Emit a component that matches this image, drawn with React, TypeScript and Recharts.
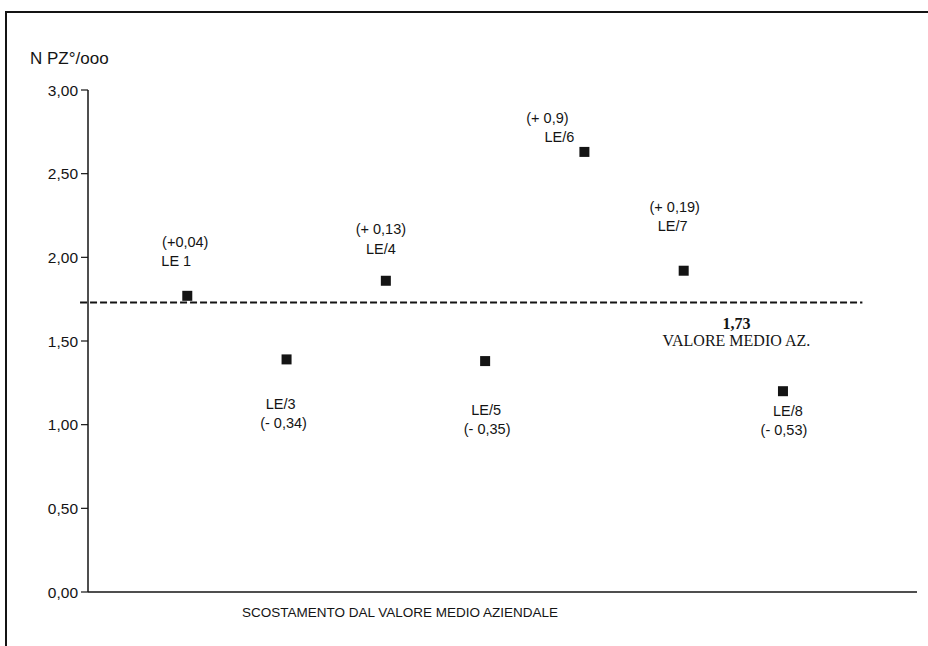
import React from "react";
import { ScatterChart, Scatter, XAxis, YAxis, ReferenceLine } from "recharts";

const NAMES = ["LE 1", "LE/3", "LE/4", "LE/5", "LE/6", "LE/7", "LE/8"];
const VALUES = [1.77, 1.39, 1.86, 1.38, 2.63, 1.92, 1.2];
const DELTAS = ["(+0,04)", "(- 0,34)", "(+ 0,13)", "(- 0,35)", "(+ 0,9)", "(+ 0,19)", "(- 0,53)"];
const MEAN = 1.73;
const MEAN_TEXT = ["1,73", "VALORE MEDIO AZ."];
const Y_TICKS = [0, 0.5, 1, 1.5, 2, 2.5, 3];
const Y_TITLE = "N PZ°/ooo";
const X_TITLE = "SCOSTAMENTO DAL VALORE MEDIO AZIENDALE";

// where the two text lines sit around each marker: [dx, dy] per line
const LABEL_OFFSETS = [
  [[-2, -54], [-11, -35]],
  [[-6, 45], [-3, 64]],
  [[-5, -52], [-5, -32]],
  [[1, 49], [2, 68]],
  [[-37, -34], [-25, -15]],
  [[-9, -64], [-11, -45]],
  [[5, 20], [1, 39]],
];

const SANS = "'Liberation Sans', Arial, sans-serif";
const SERIF = "'Liberation Serif', 'Times New Roman', serif";
const INK = "#141414";

const data = VALUES.map((v, i) => ({
  x: i + 1,
  y: v,
  name: NAMES[i],
  delta: DELTAS[i],
  i,
}));

const fmt = (v: number) => v.toFixed(2).replace(".", ",");

const Marker = (props: any) => {
  const { cx, cy, payload } = props;
  const above = payload.y > MEAN;
  const lines = above ? [payload.delta, payload.name] : [payload.name, payload.delta];
  const off = LABEL_OFFSETS[payload.i];
  return (
    <g>
      <rect x={cx - 5} y={cy - 5} width={10} height={10} fill={INK} />
      {lines.map((t: string, k: number) => (
        <text
          key={k}
          x={cx + off[k][0]}
          y={cy + off[k][1]}
          textAnchor="middle"
          dominantBaseline="central"
          fontSize={14.5}
          fontFamily={SANS}
          fill={INK}
        >
          {t}
        </text>
      ))}
    </g>
  );
};

const MeanLabel = (props: any) => {
  const vb = props.viewBox || {};
  const cx = vb.x + vb.width - 126;
  const y = vb.y;
  return (
    <g fontFamily={SERIF} fill={INK} fontSize={16} textAnchor="middle">
      <text x={cx} y={y + 21} dominantBaseline="central" fontWeight="bold">
        {MEAN_TEXT[0]}
      </text>
      <text x={cx} y={y + 38} dominantBaseline="central">
        {MEAN_TEXT[1]}
      </text>
    </g>
  );
};

export default function App() {
  return (
    <div
      style={{
        position: "absolute",
        left: 0,
        top: 0,
        width: 928,
        height: 646,
        background: "#fff",
        overflow: "hidden",
      }}
    >
      {/* frame, open on the right and bottom like the scan */}
      <div
        style={{
          position: "absolute",
          left: 5,
          top: 11,
          width: 960,
          height: 700,
          borderTop: `2px solid ${INK}`,
          borderLeft: `2px solid ${INK}`,
        }}
      />
      <div
        style={{
          position: "absolute",
          left: 30,
          top: 49,
          fontFamily: SANS,
          fontSize: 17,
          lineHeight: "20px",
          color: INK,
          whiteSpace: "nowrap",
        }}
      >
        {Y_TITLE}
      </div>
      <div
        style={{
          position: "absolute",
          left: 200,
          top: 605,
          width: 400,
          textAlign: "center",
          fontFamily: SANS,
          fontSize: 13.5,
          lineHeight: "16px",
          color: INK,
          whiteSpace: "nowrap",
        }}
      >
        {X_TITLE}
      </div>
      <div style={{ position: "absolute", left: 0, top: 0 }}>
        <ScatterChart
          width={928}
          height={646}
          margin={{ top: 90, right: 11, bottom: 24, left: 0 }}
        >
          <XAxis
            type="number"
            dataKey="x"
            domain={[0, 8.35]}
            tick={false}
            tickLine={false}
            height={30}
            axisLine={{ stroke: INK, strokeWidth: 1.5 }}
          />
          <YAxis
            type="number"
            dataKey="y"
            domain={[0, 3]}
            ticks={Y_TICKS}
            tickFormatter={fmt}
            width={88}
            tickSize={7}
            tickMargin={3}
            interval={0}
            axisLine={{ stroke: INK, strokeWidth: 1.5 }}
            tickLine={{ stroke: INK, strokeWidth: 1.2 }}
            tick={{ fill: INK, fontSize: 15.5, fontFamily: SANS }}
          />
          <ReferenceLine
            segment={[
              { x: -0.08, y: MEAN },
              { x: 7.8, y: MEAN },
            ]}
            ifOverflow="visible"
            stroke={INK}
            strokeWidth={1.8}
            strokeDasharray="7 3"
            label={<MeanLabel />}
          />
          <Scatter data={data} shape={<Marker />} isAnimationActive={false} />
        </ScatterChart>
      </div>
    </div>
  );
}
